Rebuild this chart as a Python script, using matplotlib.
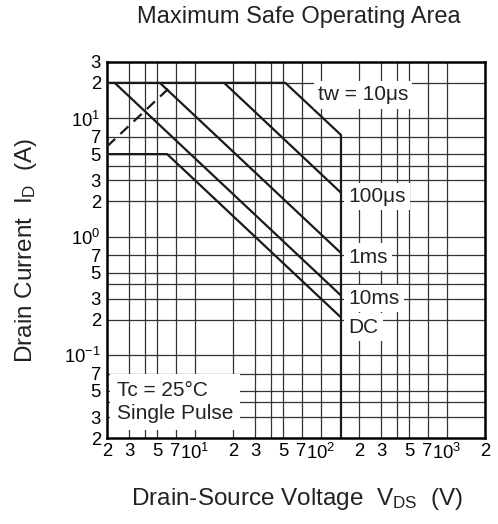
import matplotlib
matplotlib.use("Agg")
import matplotlib.pyplot as plt
from matplotlib.ticker import NullFormatter

plt.rcParams["font.family"] = ["Liberation Sans", "DejaVu Sans"]
plt.rcParams["mathtext.default"] = "regular"

# SOA boundaries: drain-source voltage (V), drain current (A)
v_10us = [2, 52, 145]
i_10us = [20, 20, 7.2]
v_100us = [17, 145]
i_100us = [20, 2.34]
v_1ms = [5.25, 145]
i_1ms = [20, 0.724]
v_10ms = [2.3, 145]
i_10ms = [20, 0.317]
v_dc = [2, 6, 145]
i_dc = [5, 5, 0.207]
v_limit = [145, 145]
i_limit = [7.2, 0.02]
# on-resistance limit (dashed)
v_rds = [2, 6.2]
i_rds = [5.8, 18]

curve_labels = ["tw = 10μs", "100μs", "1ms", "10ms", "DC"]
label_v = [94, 165, 165, 165, 165]
label_i = [15.8, 2.18, 0.676, 0.30, 0.173]

x_ticks = [2, 3, 5, 7, 10, 20, 30, 50, 70, 100, 200, 300, 500, 700, 1000, 2000]
x_tick_labels = ["2", "3", "5", "7", "$10^1$", "2", "3", "5", "7", "$10^2$",
                 "2", "3", "5", "7", "$10^3$", "2"]
y_ticks = [0.02, 0.03, 0.05, 0.07, 0.1, 0.2, 0.3, 0.5, 0.7, 1, 2, 3, 5, 7, 10, 20, 30]
y_tick_labels = ["2", "3", "5", "7", "$10^{−1}$", "2", "3", "5", "7", "$10^0$",
                 "2", "3", "5", "7", "$10^1$", "2", "3"]
grid_x = [3, 4, 5, 7, 10, 20, 30, 40, 50, 70, 100, 200, 300, 400, 500, 700, 1000]
grid_y = [0.03, 0.04, 0.05, 0.07, 0.1, 0.2, 0.3, 0.4, 0.5, 0.7, 1, 2, 3, 4, 5, 7, 10, 20]

fig = plt.figure(figsize=(4.98, 5.24), dpi=100)
ax = fig.add_axes([0.2149, 0.1641, 0.759, 0.7176])
ax.set_xscale("log")
ax.set_yscale("log")
ax.set_xlim(2, 2000)
ax.set_ylim(0.02, 30)

ax.set_xticks(x_ticks, x_tick_labels)
ax.set_yticks(y_ticks, y_tick_labels)
ax.set_xticks(grid_x, minor=True)
ax.set_yticks(grid_y, minor=True)
ax.xaxis.remove_overlapping_locs = False
ax.yaxis.remove_overlapping_locs = False
ax.xaxis.set_minor_formatter(NullFormatter())
ax.yaxis.set_minor_formatter(NullFormatter())
ax.tick_params(which="both", length=0)
ax.tick_params(axis="x", which="major", pad=3.5, labelsize=13.3)
ax.tick_params(axis="y", which="major", pad=4.5, labelsize=13.3)
ax.set_axisbelow(True)
ax.grid(which="major", visible=False)
ax.grid(which="minor", color="#333333", linewidth=0.9)
for s in ax.spines.values():
    s.set_linewidth(1.8)

lw = 1.6
for v, i in [(v_10us, i_10us), (v_100us, i_100us), (v_1ms, i_1ms),
             (v_10ms, i_10ms), (v_dc, i_dc), (v_limit, i_limit)]:
    ax.plot(v, i, color="#1a1a1a", linewidth=lw, zorder=3, solid_capstyle="butt")
ax.plot(v_rds, i_rds, color="#1a1a1a", linewidth=lw, zorder=3,
        dashes=(5, 3.2))

box = dict(facecolor="white", edgecolor="none", pad=3)
for txt, v, i in zip(curve_labels, label_v, label_i):
    ax.text(v, i, txt, ha="left", va="center", fontsize=15, color="#222222",
            bbox=box, zorder=4)

ax.text(2.4, 0.0405, "Tc = 25°C\nSingle Pulse", ha="left", va="center",
        fontsize=15, color="#222222", linespacing=1.28,
        bbox=dict(facecolor="white", edgecolor="none", pad=5), zorder=4)

fig.text(0.600, 1 - 23 / 524, "Maximum Safe Operating Area", ha="center",
         va="baseline", fontsize=17, color="#222222")
fig.text(0.597, 1 - 505 / 524, "Drain-Source Voltage  V$_{DS}$  (V)", ha="center",
         va="baseline", fontsize=17.5, color="#222222")
fig.text(0.052, 0.523, "Drain Current  I$_D$  (A)", ha="center", va="center",
         rotation=90, fontsize=17.5, color="#222222")

fig.savefig("out.png", dpi=100)
